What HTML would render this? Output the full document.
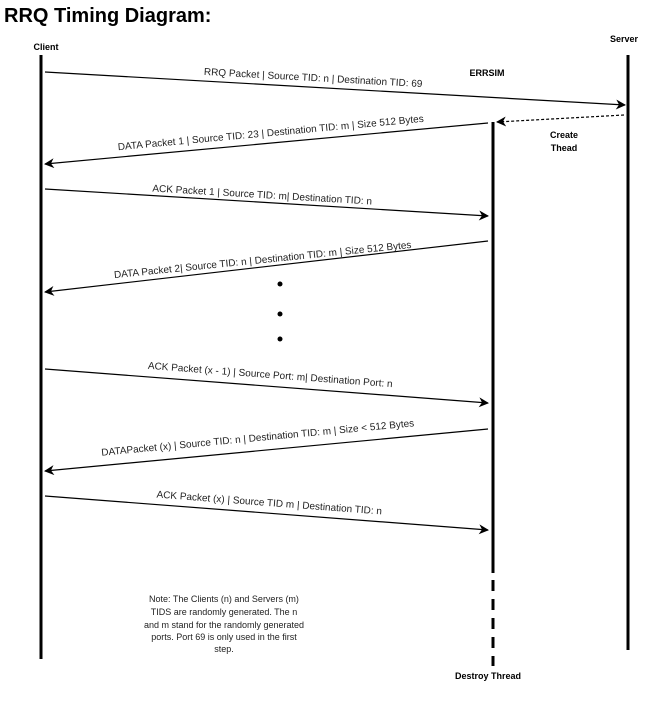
<!DOCTYPE html>
<html><head><meta charset="utf-8"><style>
html,body{margin:0;padding:0;background:#fff;}
svg{display:block;font-family:"Liberation Sans",Arial,sans-serif;}
</style></head><body>
<svg width="651" height="707" viewBox="0 0 651 707" xmlns="http://www.w3.org/2000/svg">
<defs>
<marker id="ah" markerWidth="10" markerHeight="10" refX="9" refY="5" orient="auto" markerUnits="userSpaceOnUse">
<path d="M0,0 L10,5 L0,10 L3,5 Z" fill="#000"/>
</marker>
</defs>
<text x="4" y="22" font-size="20" font-weight="bold" fill="#000">RRQ Timing Diagram:</text>
<text x="46" y="50" font-size="9" font-weight="bold" text-anchor="middle">Client</text>
<text x="624" y="42" font-size="9" font-weight="bold" text-anchor="middle">Server</text>
<text x="487" y="76" font-size="9" font-weight="bold" text-anchor="middle">ERRSIM</text>
<text x="564" y="138" font-size="9" font-weight="bold" text-anchor="middle">Create</text>
<text x="564" y="151" font-size="9" font-weight="bold" text-anchor="middle">Thead</text>
<text x="488" y="679" font-size="9" font-weight="bold" text-anchor="middle">Destroy Thread</text>

<line x1="41" y1="55" x2="41" y2="659" stroke="#000" stroke-width="3"/>
<line x1="628" y1="55" x2="628" y2="650" stroke="#000" stroke-width="3"/>
<line x1="493" y1="122" x2="493" y2="573" stroke="#000" stroke-width="3"/>
<line x1="493" y1="580" x2="493" y2="666" stroke="#000" stroke-width="3" stroke-dasharray="11,8"/>

<g stroke="#000" stroke-width="1.2" fill="none">
<line x1="45" y1="72" x2="625" y2="105" marker-end="url(#ah)"/>
<line x1="624" y1="115" x2="497" y2="122" stroke-dasharray="3,2" marker-end="url(#ah)"/>
<line x1="488" y1="123" x2="45" y2="164" marker-end="url(#ah)"/>
<line x1="45" y1="189" x2="488" y2="216" marker-end="url(#ah)"/>
<line x1="488" y1="241" x2="45" y2="292" marker-end="url(#ah)"/>
<line x1="45" y1="369" x2="488" y2="403" marker-end="url(#ah)"/>
<line x1="488" y1="429" x2="45" y2="471" marker-end="url(#ah)"/>
<line x1="45" y1="496" x2="488" y2="530" marker-end="url(#ah)"/>
</g>

<g font-size="10" fill="#222" text-anchor="middle">
<text transform="translate(313,81) rotate(3.2)">RRQ Packet | Source TID: n | Destination TID: 69</text>
<text transform="translate(271,136) rotate(-5.3)">DATA Packet 1 | Source TID: 23 | Destination TID: m | Size 512 Bytes</text>
<text transform="translate(262,198) rotate(3.4)">ACK Packet 1 | Source TID: m| Destination TID: n</text>
<text transform="translate(263,263) rotate(-5.8)">DATA Packet 2| Source TID: n | Destination TID: m | Size 512 Bytes</text>
<text transform="translate(270,378) rotate(4.3)">ACK Packet (x - 1) | Source Port: m| Destination Port: n</text>
<text transform="translate(258,441) rotate(-5.4)">DATAPacket (x) | Source TID: n | Destination TID: m | Size &lt; 512 Bytes</text>
<text transform="translate(269,506) rotate(4.3)">ACK Packet (x) | Source TID m | Destination TID: n</text>
</g>

<circle cx="280" cy="284" r="2.5" fill="#000"/>
<circle cx="280" cy="314" r="2.5" fill="#000"/>
<circle cx="280" cy="339" r="2.5" fill="#000"/>

<g font-size="9" fill="#222" text-anchor="middle">
<text x="224" y="602">Note:  The Clients (n) and Servers (m)</text>
<text x="224" y="615">TIDS are randomly generated. The n</text>
<text x="224" y="628">and m stand for the randomly generated</text>
<text x="224" y="640">ports. Port 69 is only used in the first</text>
<text x="224" y="652">step.</text>
</g>
</svg>
</body></html>
